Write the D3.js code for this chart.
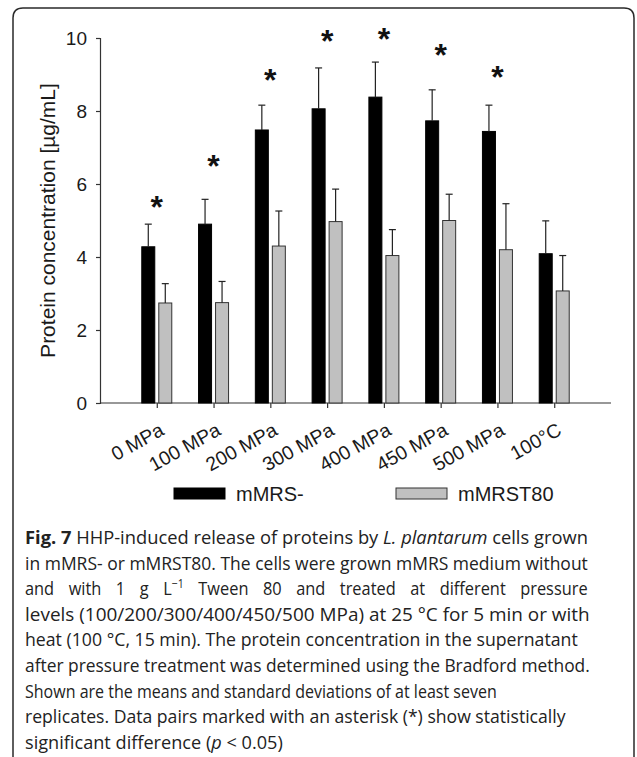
<!DOCTYPE html>
<html>
<head>
<meta charset="utf-8">
<script src="https://cdn.jsdelivr.net/npm/d3@7"></script>
<style>
  html, body { margin: 0; padding: 0; background: #fff; }
  svg { display: block; }
</style>
</head>
<body>
<script>
// ---- Data ----
const categories = ["0 MPa", "100 MPa", "200 MPa", "300 MPa", "400 MPa", "450 MPa", "500 MPa", "100°C"];
const seriesNames = ["mMRS-", "mMRST80"];
const mMRSmean = [4.28, 4.90, 7.48, 8.06, 8.38, 7.73, 7.44, 4.09];
const mMRSsd   = [0.62, 0.68, 0.68, 1.12, 0.96, 0.85, 0.72, 0.90];
const mMRST80mean = [2.74, 2.75, 4.30, 4.97, 4.04, 5.00, 4.20, 3.07];
const mMRST80sd   = [0.53, 0.58, 0.96, 0.89, 0.71, 0.72, 1.26, 0.97];
const significant = [true, true, true, true, true, true, true, false];
const asteriskLevel = [5.56, 6.68, 9.04, 10.11, 10.16, 9.73, 9.12, null];
const yTicks = [0, 2, 4, 6, 8, 10];
const yLabel = "Protein concentration [µg/mL]";
const captionLines = [
  [{t: "Fig. 7", b: true}, {t: " HHP-induced release of proteins by "}, {t: "L. plantarum", i: true}, {t: " cells grown"}],
  [{t: "in mMRS- or mMRST80. The cells were grown mMRS medium without"}],
  [{t: "and with 1 g L"}, {t: "−1", sup: true}, {t: " Tween 80 and treated at different pressure"}],
  [{t: "levels (100/200/300/400/450/500 MPa) at 25 °C for 5 min or with"}],
  [{t: "heat (100 °C, 15 min). The protein concentration in the supernatant"}],
  [{t: "after pressure treatment was determined using the Bradford method."}],
  [{t: "Shown are the means and standard deviations of at least seven"}],
  [{t: "replicates. Data pairs marked with an asterisk (*) show statistically"}],
  [{t: "significant difference ("}, {t: "p", i: true}, {t: " < 0.05)"}]
];
const captionWidths = [563, 563, 563, 565, 553, 565, 472, 541, 258];
const captionJustified = [false, false, true, false, false, false, false, false, false];

// ---- Layout ----
const W = 637, H = 757;
const svg = d3.select("body").append("svg").attr("width", W).attr("height", H);

// frame
svg.append("path")
  .attr("d", `M13,${H + 5} L13,18 Q13,8 23,8 L624,8 Q634,8 634,18 L634,${H + 5}`)
  .attr("fill", "none").attr("stroke", "#2a2a2a").attr("stroke-width", 1.5);

const x = d3.scalePoint().domain(categories).range([100, 611]).padding(1);
const y = d3.scaleLinear().domain([0, 10]).range([403, 38]);

const font = "Liberation Sans, Arial, sans-serif";
const g = svg.append("g");

// Y axis
const yAxis = g.append("g").attr("transform", "translate(100,0)")
  .call(d3.axisLeft(y).tickValues(yTicks).tickSize(4).tickPadding(9).tickFormat(d3.format("d")));
yAxis.select(".domain").attr("stroke", "#333").attr("stroke-width", 1.2);
yAxis.selectAll(".tick line").attr("stroke", "#333").attr("stroke-width", 1.2);
yAxis.selectAll(".tick text").attr("font-family", font).attr("font-size", 19).attr("fill", "#1a1a1a");

// X axis
const xAxis = g.append("g").attr("transform", "translate(0,403)")
  .call(d3.axisBottom(x).tickSize(5).tickSizeOuter(0).tickFormat(""));
xAxis.select(".domain").attr("stroke", "#333").attr("stroke-width", 1.2)
  .attr("d", "M100,0H611");
xAxis.selectAll(".tick line").attr("stroke", "#333").attr("stroke-width", 1.2);
xAxis.selectAll(".tick").append("text")
  .attr("font-family", font).attr("font-size", 19.5).attr("fill", "#1a1a1a")
  .attr("text-anchor", "end")
  .attr("transform", "translate(8,31) rotate(-29)")
  .text(d => d);

// Y label
g.append("text")
  .attr("transform", `translate(55,${(y(0) + y(10)) / 2}) rotate(-90)`)
  .attr("text-anchor", "middle")
  .attr("font-family", font).attr("font-size", 21).attr("fill", "#1a1a1a")
  .text(yLabel);

// Bars
const barW = 13, gap = 2;
const rows = categories.map((c, i) => ({c, i}));
const seriesDefs = [
  {mean: mMRSmean, sd: mMRSsd, fill: "#000", stroke: "#000", off: -gap - barW},
  {mean: mMRST80mean, sd: mMRST80sd, fill: "#c0c0c0", stroke: "#333", off: gap}
];
seriesDefs.forEach(s => {
  const sg = g.append("g");
  sg.selectAll("rect").data(rows).join("rect")
    .attr("x", d => x(d.c) + s.off)
    .attr("y", d => y(s.mean[d.i]))
    .attr("width", barW)
    .attr("height", d => y(0) - y(s.mean[d.i]))
    .attr("fill", s.fill).attr("stroke", s.stroke).attr("stroke-width", 1);
  const eg = sg.selectAll("g.err").data(rows).join("g").attr("class", "err");
  eg.append("line")
    .attr("x1", d => x(d.c) + s.off + barW / 2).attr("x2", d => x(d.c) + s.off + barW / 2)
    .attr("y1", d => y(s.mean[d.i])).attr("y2", d => y(s.mean[d.i] + s.sd[d.i]))
    .attr("stroke", "#222").attr("stroke-width", 1.2);
  eg.append("line")
    .attr("x1", d => x(d.c) + s.off + barW / 2 - 3.5).attr("x2", d => x(d.c) + s.off + barW / 2 + 3.5)
    .attr("y1", d => y(s.mean[d.i] + s.sd[d.i])).attr("y2", d => y(s.mean[d.i] + s.sd[d.i]))
    .attr("stroke", "#222").attr("stroke-width", 1.2);
});

// Asterisks
g.selectAll("text.ast").data(rows.filter(d => significant[d.i])).join("text")
  .attr("class", "ast")
  .attr("x", d => x(d.c))
  .attr("y", d => y(asteriskLevel[d.i]) + 18)
  .attr("text-anchor", "middle")
  .attr("font-family", font).attr("font-size", 32).attr("font-weight", "bold").attr("fill", "#111")
  .text("*");

// Legend
const leg = g.append("g");
const legItems = [
  {name: seriesNames[0], fill: "#000", stroke: "#000", x: 174},
  {name: seriesNames[1], fill: "#c0c0c0", stroke: "#333", x: 396}
];
legItems.forEach(li => {
  leg.append("rect").attr("x", li.x).attr("y", 488).attr("width", 51).attr("height", 11)
    .attr("fill", li.fill).attr("stroke", li.stroke).attr("stroke-width", 1);
  leg.append("text").attr("x", li.x + 62).attr("y", 501)
    .attr("font-family", font).attr("font-size", 20).attr("fill", "#1a1a1a").text(li.name);
});

// Caption (horizontally condensed to mimic the narrow journal font)
const capFont = "'Open Sans', 'Noto Sans', sans-serif";
const condense = 0.885;
captionLines.forEach((line, li) => {
  const baseY = 544 + li * 25.6;
  const t = svg.append("text")
    .attr("x", 0).attr("y", 0)
    .attr("font-family", capFont).attr("font-size", 18.5).attr("fill", "#222");
  line.forEach(seg => {
    const ts = t.append("tspan").text(seg.t);
    if (seg.b) ts.attr("font-weight", "bold");
    if (seg.i) ts.attr("font-style", "italic");
    if (seg.sup) { ts.attr("font-size", 12).attr("dy", -7); }
  });
  if (line.some(s => s.sup)) {
    const spans = t.selectAll("tspan").nodes();
    const idx = line.findIndex(s => s.sup);
    d3.select(spans[idx + 1]).attr("dy", 7);
  }
  const natural = t.node().getComputedTextLength();
  let sx;
  if (captionJustified[li]) {
    sx = condense;
    const nSpaces = line.map(s => s.t).join("").split(" ").length - 1;
    const extra = (captionWidths[li] / sx - natural) / Math.max(1, nSpaces);
    t.attr("word-spacing", extra);
  } else {
    sx = captionWidths[li] / natural;
  }
  t.attr("transform", `translate(25,${baseY}) scale(${sx},1)`);
});
</script>
</body>
</html>
